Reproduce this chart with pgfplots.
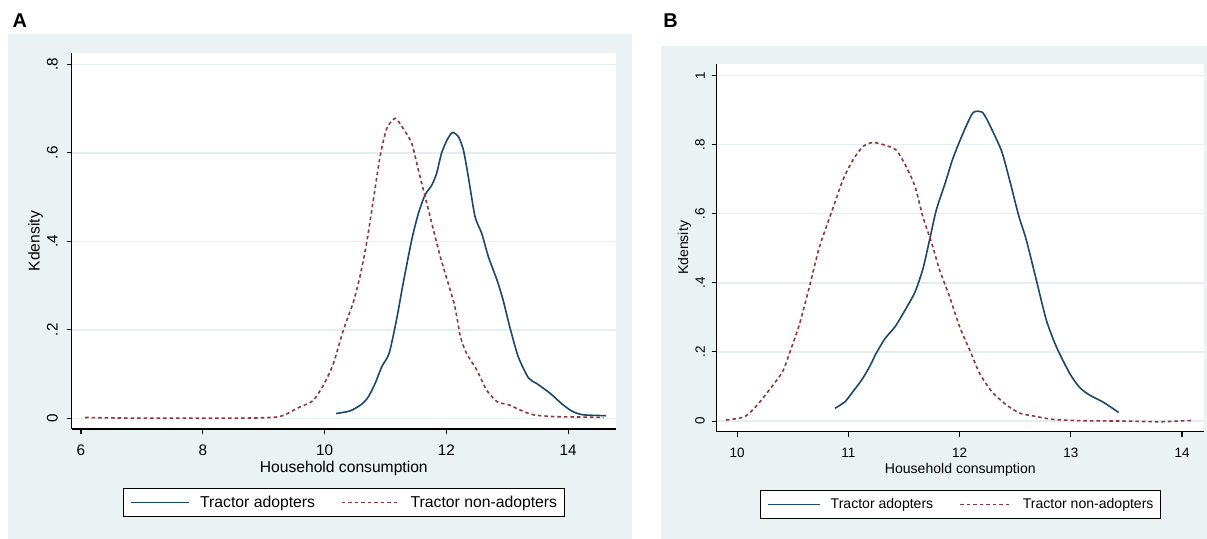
\documentclass[border=0pt]{standalone}
\usepackage{pgfplots}
\pgfplotsset{compat=1.18}
\usepackage{fontspec}
\setmainfont{Liberation Sans}
\definecolor{bgc}{HTML}{EAF2F3}
\definecolor{gridc}{HTML}{E4EDF0}
\definecolor{snavy}{HTML}{1A476F}
\definecolor{smaroon}{HTML}{90353B}
\pgfplotsset{
  statastyle/.style={
    scale only axis,
    /pgf/number format/assume math mode=true,
    axis background/.style={fill=white},
    axis x line*=bottom, axis y line*=left,
    axis line style={-, black, line width=1.1bp},
    tick align=outside, major tick length=5bp,
    tick style={black, line width=1.1bp},
    ymajorgrids, major grid style={gridc, line width=1.4bp},
    yticklabel style={rotate=90, anchor=south, inner sep=0pt},
    xticklabel style={anchor=north, inner sep=0pt},
    legend columns=2,
    legend style={draw=black, line width=1bp, fill=white, anchor=center,
      inner ysep=8bp,
      nodes={inner sep=0pt},
      /tikz/every odd column/.append style={column sep=10bp},
      /tikz/every even column/.append style={column sep=26bp}},
    xlabel style={anchor=center},
    ylabel style={anchor=center, rotate=0},
  },
  adop/.style={snavy, line width=1.6bp, smooth, tension=0.4},
  nonad/.style={smaroon, line width=1.6bp, dash pattern=on 3.5bp off 3bp, smooth, tension=0.4},
}
\begin{document}
\begin{tikzpicture}[x=1bp,y=1bp]
\fill[white] (0,0) rectangle (1207,539);
\fill[bgc] (8,0) rectangle (632,505);
\fill[bgc] (661,0) rectangle (1207,493.3);
\node[font=\bfseries\fontsize{20}{22}\selectfont] at (19.8,518) {A};
\node[font=\bfseries\fontsize{20}{22}\selectfont] at (670.5,518) {B};

\begin{axis}[statastyle,
  at={(71.6bp,110bp)}, anchor=south west,
  width=544.4bp, height=375.7bp,
  xmin=5.846, xmax=14.785, ymin=-0.024, ymax=0.825,
  xtick={6,8,10,12,14}, xticklabels={6,8,10,12,14},
  ytick={0,0.2,0.4,0.6,0.8}, yticklabels={0,.2,.4,.6,.8},
  xticklabel shift=10.8bp, yticklabel shift=8.7bp,
  tick label style={font=\fontsize{15.3}{17}\selectfont},
  label style={font=\fontsize{15.7}{18}\selectfont},
  xlabel={Household consumption}, ylabel={Kdensity},
  xlabel style={at={(axis description cs:0.5,-0.1038)}},
  ylabel style={at={(axis description cs:-0.0661,0.5)}},
  legend style={at={(0.5,-0.1956)}, inner xsep=7.5bp, font=\fontsize{15.8}{18}\selectfont},
  legend image code/.code={\draw[#1] (0bp,0bp) -- (58bp,0bp);},
]
\addplot[adop] coordinates {
(10.19,0.011) (10.42,0.017) (10.61,0.032) (10.72,0.049) (10.83,0.079) (10.94,0.117) (11.06,0.147) (11.18,0.222) (11.29,0.305) (11.43,0.403) (11.54,0.463) (11.65,0.505) (11.76,0.527) (11.84,0.554) (11.92,0.599) (12.01,0.629) (12.10,0.646) (12.20,0.636) (12.28,0.606) (12.36,0.546) (12.47,0.456) (12.58,0.418) (12.69,0.365) (12.83,0.313) (12.93,0.268) (13.04,0.207) (13.18,0.139) (13.35,0.091) (13.48,0.079) (13.70,0.057) (13.92,0.030) (14.08,0.015) (14.25,0.008) (14.62,0.006)
};
\addlegendentry{Tractor adopters}
\addplot[nonad] coordinates {
(6.07,0.002) (6.5,0.001) (7,0.0005) (7.5,0.0005) (8,0.0005) (8.5,0.0005) (8.9,0.001) (9.21,0.003) (9.35,0.008) (9.47,0.017) (9.6,0.026) (9.81,0.040) (9.98,0.075) (10.14,0.122) (10.31,0.200) (10.47,0.262) (10.58,0.320) (10.69,0.396) (10.80,0.493) (10.91,0.591) (11.02,0.655) (11.16,0.678) (11.29,0.655) (11.43,0.622) (11.54,0.561) (11.65,0.501) (11.76,0.441) (11.90,0.365) (12.03,0.305) (12.14,0.252) (12.23,0.185) (12.33,0.147) (12.50,0.109) (12.66,0.064) (12.83,0.038) (13.04,0.030) (13.21,0.019) (13.43,0.008) (13.76,0.004) (14.2,0.003) (14.58,0.002)
};
\addlegendentry{Tractor non-adopters}
\end{axis}

\begin{axis}[statastyle,
  at={(716.6bp,107.2bp)}, anchor=south west,
  width=487.4bp, height=367.8bp,
  xmin=9.815, xmax=14.198, ymin=-0.031, ymax=1.033,
  xtick={10,11,12,13,14}, xticklabels={10,11,12,13,14},
  ytick={0,0.2,0.4,0.6,0.8,1}, yticklabels={0,.2,.4,.6,.8,1},
  xticklabel shift=11.3bp, yticklabel shift=6.6bp,
  tick label style={font=\fontsize{13.5}{15}\selectfont},
  label style={font=\fontsize{14.1}{16}\selectfont},
  xlabel={Household consumption}, ylabel={Kdensity},
  xlabel style={at={(axis description cs:0.5,-0.1039)}},
  ylabel style={at={(axis description cs:-0.0661,0.5)}},
  legend style={at={(0.5,-0.1977)}, inner xsep=6.5bp, font=\fontsize{14.1}{16}\selectfont},
  legend image code/.code={\draw[#1] (0bp,0bp) -- (52bp,0bp);},
]
\addplot[adop] coordinates {
(10.88,0.037) (10.97,0.056) (11.04,0.085) (11.12,0.119) (11.19,0.157) (11.25,0.196) (11.33,0.239) (11.42,0.273) (11.51,0.321) (11.60,0.374) (11.67,0.440) (11.73,0.524) (11.79,0.610) (11.87,0.688) (11.94,0.760) (12.03,0.832) (12.12,0.892) (12.20,0.894) (12.24,0.876) (12.30,0.837) (12.38,0.779) (12.45,0.697) (12.53,0.596) (12.60,0.524) (12.69,0.408) (12.78,0.292) (12.87,0.215) (12.99,0.138) (13.08,0.097) (13.17,0.075) (13.29,0.055) (13.43,0.025)
};
\addlegendentry{Tractor adopters}
\addplot[nonad] coordinates {
(9.90,0.003) (10.07,0.013) (10.19,0.050) (10.31,0.099) (10.41,0.144) (10.49,0.214) (10.56,0.280) (10.65,0.389) (10.74,0.504) (10.86,0.615) (10.95,0.697) (11.04,0.755) (11.13,0.794) (11.22,0.806) (11.33,0.798) (11.43,0.784) (11.52,0.736) (11.60,0.678) (11.67,0.591) (11.75,0.514) (11.82,0.437) (11.91,0.360) (12.00,0.273) (12.09,0.206) (12.18,0.138) (12.29,0.085) (12.42,0.047) (12.54,0.023) (12.66,0.015) (12.84,0.005) (13.11,0.001) (13.5,0.0) (13.8,-0.002) (14.10,0.002)
};
\addlegendentry{Tractor non-adopters}
\end{axis}
\path[use as bounding box] (0,0) rectangle (1207,539);
\end{tikzpicture}
\end{document}
